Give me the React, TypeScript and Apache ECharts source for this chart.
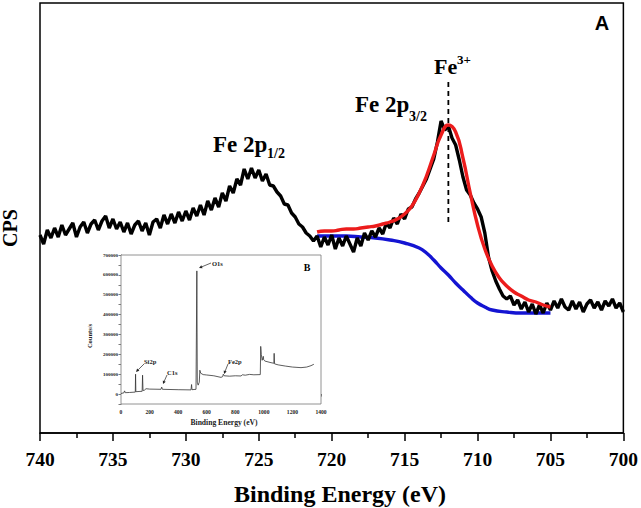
import React, { useEffect, useRef } from "react";
import * as echarts from "echarts";

// ---- Main Fe 2p spectrum (panel A), energy grid 740 -> 700 eV, step 0.25 eV
const rawStart = 740;
const rawStep = 0.25;
const rawCps = [
  198, 189, 203, 195, 205, 196, 208, 198, 204, 210, 196, 206, 211, 200, 209, 213,
  203, 212, 217, 205, 214, 204, 211, 201, 210, 199, 208, 212, 202, 210, 198, 211,
  214, 205, 218, 209, 219, 210, 221, 212, 222, 213, 225, 217, 228, 218, 232, 223,
  235, 226, 240, 232, 247, 240, 254, 248, 264, 254, 265, 255, 263, 252, 259, 248,
  247, 241, 237, 229, 228, 220, 216, 209, 206, 200, 197, 192, 197, 186, 196, 188,
  198, 184, 195, 187, 197, 189, 181, 195, 187, 200, 193, 202, 196, 205, 199, 210,
  205, 215, 209, 219, 214, 224, 226, 234, 240, 247, 254, 264, 274, 291, 312, 303,
  307, 295, 288, 273, 256, 243, 238, 230, 224, 216, 200, 176, 162, 152, 144, 137,
  134, 137, 128, 133, 124, 131, 121, 129, 119, 128, 120, 130, 123, 132, 125, 134,
  126, 123, 132, 124, 131, 121, 129, 133, 125, 131, 123, 132, 127, 134, 125, 130,
  121,
];

// ---- Fitted Fe3+ envelope (red)
const fitEnergy = [
  721, 720.5, 720, 719.5, 719, 718.5, 718, 717.5, 717, 716.5, 716, 715.5, 715, 714.5,
  714, 713.5, 713, 712.5, 712, 711.5, 711, 710.5, 710, 709.5, 709, 708.5, 708, 707.5,
  707, 706.5, 706, 705.5, 705,
];
const fitCps = [
  201, 202, 202, 203, 204, 204, 205, 206, 207, 209, 211, 214, 219, 227,
  240, 257, 278, 298, 308, 301, 275, 240, 208, 184, 167, 155, 147, 141,
  137, 133, 131, 128, 126,
];

// ---- Shirley background (blue)
const bgEnergy = [
  721, 720, 719, 718, 717, 716, 715, 714, 713.5, 713, 712.5, 712, 711.5, 711, 710.5,
  710, 709.5, 709, 708, 707, 706, 705,
];
const bgCps = [
  197, 197, 197, 196, 195, 193, 190, 185, 180, 173, 165, 158, 150, 143, 136,
  130, 126, 123, 121, 120, 120, 120,
];

// ---- Fe3+ marker
const fe3Energy = 712;
const fe3Range = [211, 355];

// ---- Survey spectrum (panel B inset)
const surveyEnergy = [
  0, 20, 25, 30, 60, 100, 102, 104, 148, 151, 154, 165, 175, 200, 280, 285, 290, 400,
  490, 494, 497, 525, 531, 534, 540, 548, 552, 558, 575, 600, 650, 700, 712, 716, 722,
  760, 800, 840, 850, 870, 900, 930, 975, 978, 982, 988, 996, 999, 1008, 1050, 1070,
  1072, 1075, 1100, 1150, 1200, 1260, 1300, 1330, 1350,
];
const surveyCounts = [
  3000, 6000, 16000, 7000, 8000, 10000, 100000, 12000, 14000, 95000, 18000, 20000,
  27000, 25000, 24000, 35000, 24000, 22000, 21000, 48000, 22000, 24000, 620000, 60000,
  45000, 60000, 120000, 105000, 98000, 96000, 92000, 84000, 88000, 100000, 92000,
  90000, 92000, 91000, 97000, 95000, 99000, 97000, 98000, 240000, 200000, 170000,
  190000, 172000, 166000, 158000, 155000, 205000, 152000, 147000, 141000, 136000,
  133000, 136000, 143000, 150000,
];

const SERIF = "Liberation Serif";

function arrow(x1: number, y1: number, x2: number, y2: number) {
  const ang = Math.atan2(y2 - y1, x2 - x1);
  const L = 3.2;
  const W = 1.6;
  const bx = x2 - L * Math.cos(ang);
  const by = y2 - L * Math.sin(ang);
  const nx = -Math.sin(ang);
  const ny = Math.cos(ang);
  return [
    {
      type: "line",
      shape: { x1, y1, x2: bx, y2: by },
      style: { stroke: "#222", lineWidth: 0.7 },
      z: 100,
    },
    {
      type: "polygon",
      shape: {
        points: [
          [x2, y2],
          [bx + nx * W, by + ny * W],
          [bx - nx * W, by - ny * W],
        ],
      },
      style: { fill: "#222" },
      z: 100,
    },
  ];
}

function txt(text: string, x: number, y: number, size: number, opts: any = {}) {
  return {
    type: "text",
    x,
    y,
    rotation: opts.rotation || 0,
    z: 100,
    style: {
      text,
      fontSize: size,
      fontWeight: opts.weight || "bold",
      fontFamily: opts.family || SERIF,
      fill: opts.fill || "#000",
      textAlign: opts.align || "left",
      textVerticalAlign: "middle",
    },
  };
}

export default function App() {
  const ref = useRef<HTMLDivElement>(null);

  useEffect(() => {
    document.body.style.margin = "0";
    if (!ref.current) return;
    const chart = echarts.init(ref.current, undefined, { renderer: "svg" });

    const rawData = rawCps.map((v, i) => [rawStart - i * rawStep, v]);
    const fitData = fitEnergy.map((e, i) => [e, fitCps[i]]);
    const bgData = bgEnergy.map((e, i) => [e, bgCps[i]]);
    const surveyData = surveyEnergy.map((e, i) => [e, surveyCounts[i]]);

    const option: any = {
      animation: false,
      backgroundColor: "#fff",
      textStyle: { fontFamily: SERIF, fontWeight: "bold", color: "#000" },
      grid: [
        {
          left: 40,
          top: 3,
          width: 585,
          height: 430,
          show: true,
          borderColor: "#000",
          borderWidth: 1.5,
          backgroundColor: "transparent",
        },
        {
          left: 121,
          top: 255,
          width: 200,
          height: 149,
          show: true,
          borderColor: "#777",
          borderWidth: 0.8,
          backgroundColor: "#fff",
          z: 3,
        },
      ],
      xAxis: [
        {
          type: "value",
          gridIndex: 0,
          min: 700,
          max: 740,
          interval: 5,
          inverse: true,
          axisLine: { show: true, lineStyle: { color: "#000", width: 1.5 } },
          axisTick: {
            show: true,
            inside: false,
            length: 8,
            lineStyle: { color: "#000", width: 1.5 },
          },
          minorTick: {
            show: true,
            splitNumber: 2,
            length: 5,
            lineStyle: { color: "#000", width: 1.5 },
          },
          splitLine: { show: false },
          axisLabel: {
            color: "#000",
            fontFamily: SERIF,
            fontWeight: "bold",
            fontSize: 19.5,
            margin: 16,
            formatter: (v: number) => String(v),
          },
        },
        {
          type: "value",
          gridIndex: 1,
          min: 0,
          max: 1400,
          interval: 200,
          axisLine: { show: true, lineStyle: { color: "#444", width: 0.8 } },
          axisTick: { show: true, length: 2.5, lineStyle: { color: "#444", width: 0.7 } },
          minorTick: {
            show: true,
            splitNumber: 2,
            length: 1.8,
            lineStyle: { color: "#444", width: 0.6 },
          },
          splitLine: { show: false },
          axisLabel: {
            color: "#222",
            fontFamily: SERIF,
            fontWeight: "bold",
            fontSize: 5.6,
            margin: 5,
            formatter: (v: number) => String(v),
          },
        },
      ],
      yAxis: [
        {
          type: "value",
          gridIndex: 0,
          min: 0,
          max: 430,
          axisLine: { show: false },
          axisTick: { show: false },
          axisLabel: { show: false },
          splitLine: { show: false },
        },
        {
          type: "value",
          gridIndex: 1,
          min: -50000,
          max: 700000,
          interval: 50000,
          axisLine: { show: true, lineStyle: { color: "#444", width: 0.8 } },
          axisTick: { show: true, length: 2.5, lineStyle: { color: "#444", width: 0.7 } },
          splitLine: { show: false },
          axisLabel: {
            color: "#222",
            fontFamily: SERIF,
            fontWeight: "bold",
            fontSize: 5,
            margin: 3,
            formatter: (v: number) => (v >= 0 && v % 100000 === 0 ? String(v) : ""),
          },
        },
      ],
      series: [
        {
          type: "line",
          name: "background",
          xAxisIndex: 0,
          yAxisIndex: 0,
          data: bgData,
          smooth: true,
          showSymbol: false,
          lineStyle: { color: "#1414d2", width: 3.4 },
          z: 2,
        },
        {
          type: "line",
          name: "raw",
          xAxisIndex: 0,
          yAxisIndex: 0,
          data: rawData,
          showSymbol: false,
          lineStyle: { color: "#000", width: 3.4 },
          z: 3,
        },
        {
          type: "line",
          name: "fit",
          xAxisIndex: 0,
          yAxisIndex: 0,
          data: fitData,
          smooth: true,
          showSymbol: false,
          lineStyle: { color: "#ec1c1c", width: 3.4 },
          z: 4,
        },
        {
          type: "line",
          name: "Fe3+",
          xAxisIndex: 0,
          yAxisIndex: 0,
          data: [
            [fe3Energy, fe3Range[0]],
            [fe3Energy, fe3Range[1]],
          ],
          showSymbol: false,
          lineStyle: { color: "#000", width: 1.8, type: [5, 4] },
          z: 5,
        },
        {
          type: "line",
          name: "survey",
          xAxisIndex: 1,
          yAxisIndex: 1,
          data: surveyData,
          showSymbol: false,
          lineStyle: { color: "#333", width: 0.8 },
          z: 10,
        },
      ],
      graphic: [
        txt("A", 602, 23, 20, { family: "Liberation Sans", align: "center" }),
        txt("Fe 2p", 213, 144.5, 23),
        txt("1/2", 267, 153.5, 14),
        txt("Fe 2p", 355, 104.5, 23),
        txt("3/2", 409, 116.5, 14),
        txt("Fe", 434, 66.5, 22),
        txt("3+", 457, 59.5, 13),
        txt("CPS", 10, 228, 20, { rotation: Math.PI / 2, align: "center" }),
        txt("Binding Energy (eV)", 340, 494, 24, { align: "center" }),
        // inset texts
        txt("B", 307, 267, 10, { align: "center" }),
        txt("Counts/s", 89, 336, 6.5, { rotation: Math.PI / 2, align: "center", fill: "#222" }),
        txt("Binding Energy (eV)", 224, 422, 7.6, { align: "center", fill: "#222" }),
        txt("O1s", 212, 263, 6.5, { fill: "#222" }),
        txt("Si2p", 144, 361, 6.5, { fill: "#222" }),
        txt("C1s", 167, 372, 6.5, { fill: "#222" }),
        txt("Fe2p", 228, 361, 6.5, { fill: "#222" }),
        ...arrow(211, 263, 199, 268),
        ...arrow(144, 364, 136, 372),
        ...arrow(167, 375, 163, 384),
        ...arrow(228, 364, 224, 374),
      ],
    };

    chart.setOption(option);
    return () => chart.dispose();
  }, []);

  return <div ref={ref} style={{ width: 641, height: 508 }} />;
}
